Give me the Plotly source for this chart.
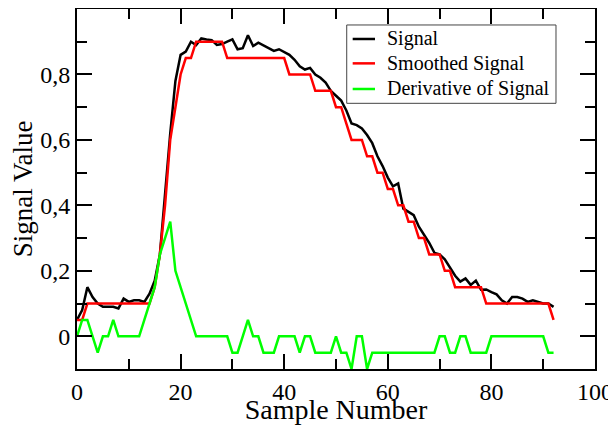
import plotly.graph_objects as go

sample = list(range(93))

signal = [0.05, 0.08, 0.15, 0.12, 0.10, 0.09, 0.09, 0.09, 0.085, 0.115,
          0.105, 0.11, 0.11, 0.105, 0.13, 0.17, 0.25, 0.44, 0.62, 0.78,
          0.86, 0.87, 0.90, 0.89, 0.91, 0.907, 0.905, 0.89, 0.893, 0.90,
          0.907, 0.877, 0.88, 0.92, 0.887, 0.897, 0.888, 0.88, 0.872, 0.877,
          0.868, 0.86, 0.845, 0.825, 0.815, 0.82, 0.80, 0.79, 0.775, 0.75,
          0.735, 0.72, 0.69, 0.65, 0.645, 0.635, 0.615, 0.59, 0.55, 0.52,
          0.485, 0.458, 0.467, 0.39, 0.38, 0.37, 0.335, 0.31, 0.285, 0.255,
          0.25, 0.235, 0.21, 0.185, 0.167, 0.177, 0.157, 0.17, 0.142, 0.143,
          0.135, 0.128, 0.11, 0.10, 0.12, 0.12, 0.115, 0.105, 0.11, 0.105,
          0.10, 0.10, 0.09]

smoothed = [0.05, 0.05, 0.10, 0.10, 0.10, 0.10, 0.10, 0.10, 0.10, 0.10,
            0.10, 0.10, 0.10, 0.10, 0.10, 0.15, 0.25, 0.40, 0.60, 0.70,
            0.80, 0.85, 0.85, 0.90, 0.90, 0.90, 0.90, 0.90, 0.90, 0.85,
            0.85, 0.85, 0.85, 0.85, 0.85, 0.85, 0.85, 0.85, 0.85, 0.85,
            0.85, 0.80, 0.80, 0.80, 0.80, 0.80, 0.75, 0.75, 0.75, 0.75,
            0.70, 0.70, 0.65, 0.60, 0.60, 0.60, 0.55, 0.55, 0.50, 0.50,
            0.45, 0.45, 0.40, 0.40, 0.35, 0.35, 0.30, 0.30, 0.25, 0.25,
            0.25, 0.20, 0.20, 0.15, 0.15, 0.15, 0.15, 0.15, 0.15, 0.10,
            0.10, 0.10, 0.10, 0.10, 0.10, 0.10, 0.10, 0.10, 0.10, 0.10,
            0.10, 0.10, 0.05]

derivative = [0.0, 0.05, 0.05, 0.0, -0.05, 0.0, 0.0, 0.05, 0.0, 0.0,
              0.0, 0.0, 0.0, 0.05, 0.10, 0.15, 0.25, 0.30, 0.35, 0.20,
              0.15, 0.10, 0.05, 0.0, 0.0, 0.0, 0.0, 0.0, 0.0, 0.0,
              -0.05, -0.05, 0.0, 0.05, 0.0, 0.0, -0.05, -0.05, -0.05, 0.0,
              0.0, 0.0, 0.0, -0.05, 0.0, 0.0, -0.05, -0.05, -0.05, -0.05,
              0.0, -0.05, -0.05, -0.10, 0.0, 0.0, -0.10, -0.05, -0.05, -0.05,
              -0.05, -0.05, -0.05, -0.05, -0.05, -0.05, -0.05, -0.05, -0.05, -0.05,
              0.0, 0.0, -0.05, -0.05, 0.0, 0.0, -0.05, -0.05, -0.05, -0.05,
              0.0, 0.0, 0.0, 0.0, 0.0, 0.0, 0.0, 0.0, 0.0, 0.0,
              0.0, -0.05, -0.05]

series_names = ["Signal", "Smoothed Signal", "Derivative of Signal"]
series_colors = ["#000000", "#ff0000", "#00ff00"]

y_tickvals = [0, 0.2, 0.4, 0.6, 0.8]
y_ticktext = ["0", "0,2", "0,4", "0,6", "0,8"]
y_minorvals = [-0.1, 0.1, 0.3, 0.5, 0.7, 0.9]

FONT = "Liberation Serif"

fig = go.Figure()
for name, color, ys in zip(series_names, series_colors, [signal, smoothed, derivative]):
    fig.add_trace(go.Scatter(x=sample, y=ys, mode="lines", name=name,
                             line=dict(color=color, width=2.5), showlegend=False))

axis_common = dict(showgrid=False, zeroline=False, showline=True, linecolor="black",
                   linewidth=2, mirror="allticks", ticks="inside", ticklen=15,
                   tickwidth=2, tickcolor="black",
                   tickfont=dict(family=FONT, size=24, color="black"))

fig.update_xaxes(range=[0, 100], tick0=0, dtick=20,
                 minor=dict(dtick=10, ticks="inside", ticklen=10, tickwidth=2, tickcolor="black"),
                 title=dict(text="Sample Number", font=dict(family=FONT, size=28, color="black"),
                            standoff=8),
                 **axis_common)
fig.update_yaxes(range=[-0.1, 1.0], tickmode="array", tickvals=y_tickvals, ticktext=y_ticktext,
                 minor=dict(tickmode="array", tickvals=y_minorvals, ticks="inside", ticklen=10,
                            tickwidth=2, tickcolor="black"),
                 title=dict(text="Signal Value", font=dict(family=FONT, size=27, color="black"),
                            standoff=6),
                 **axis_common)

# Legend box drawn in paper coordinates (xmgrace-style compact legend)
leg_x0, leg_x1, leg_y0, leg_y1 = 0.5207, 0.9247, 0.738, 0.9556
leg_rows = [0.9167, 0.849, 0.7778]
leg_line_x = (0.5322, 0.5753)
leg_text_x = 0.5946
shapes = [dict(type="rect", xref="paper", yref="paper", x0=leg_x0, x1=leg_x1,
               y0=leg_y0, y1=leg_y1, line=dict(color="#444444", width=1),
               fillcolor="white", layer="above")]
annotations = []
for name, color, ry in zip(series_names, series_colors, leg_rows):
    shapes.append(dict(type="line", xref="paper", yref="paper", x0=leg_line_x[0],
                       x1=leg_line_x[1], y0=ry, y1=ry,
                       line=dict(color=color, width=2.5), layer="above"))
    annotations.append(dict(xref="paper", yref="paper", x=leg_text_x, y=ry,
                            xanchor="left", yanchor="middle", showarrow=False,
                            text=name, font=dict(family=FONT, size=20, color="black")))

fig.update_layout(
    width=608, height=417,
    margin=dict(l=69, r=21, t=1, b=56, autoexpand=False),
    paper_bgcolor="white", plot_bgcolor="white",
    separators=",.",
    font=dict(family=FONT, color="black"),
    showlegend=False,
    shapes=shapes,
    annotations=annotations,
)

fig.write_html("out.html")
